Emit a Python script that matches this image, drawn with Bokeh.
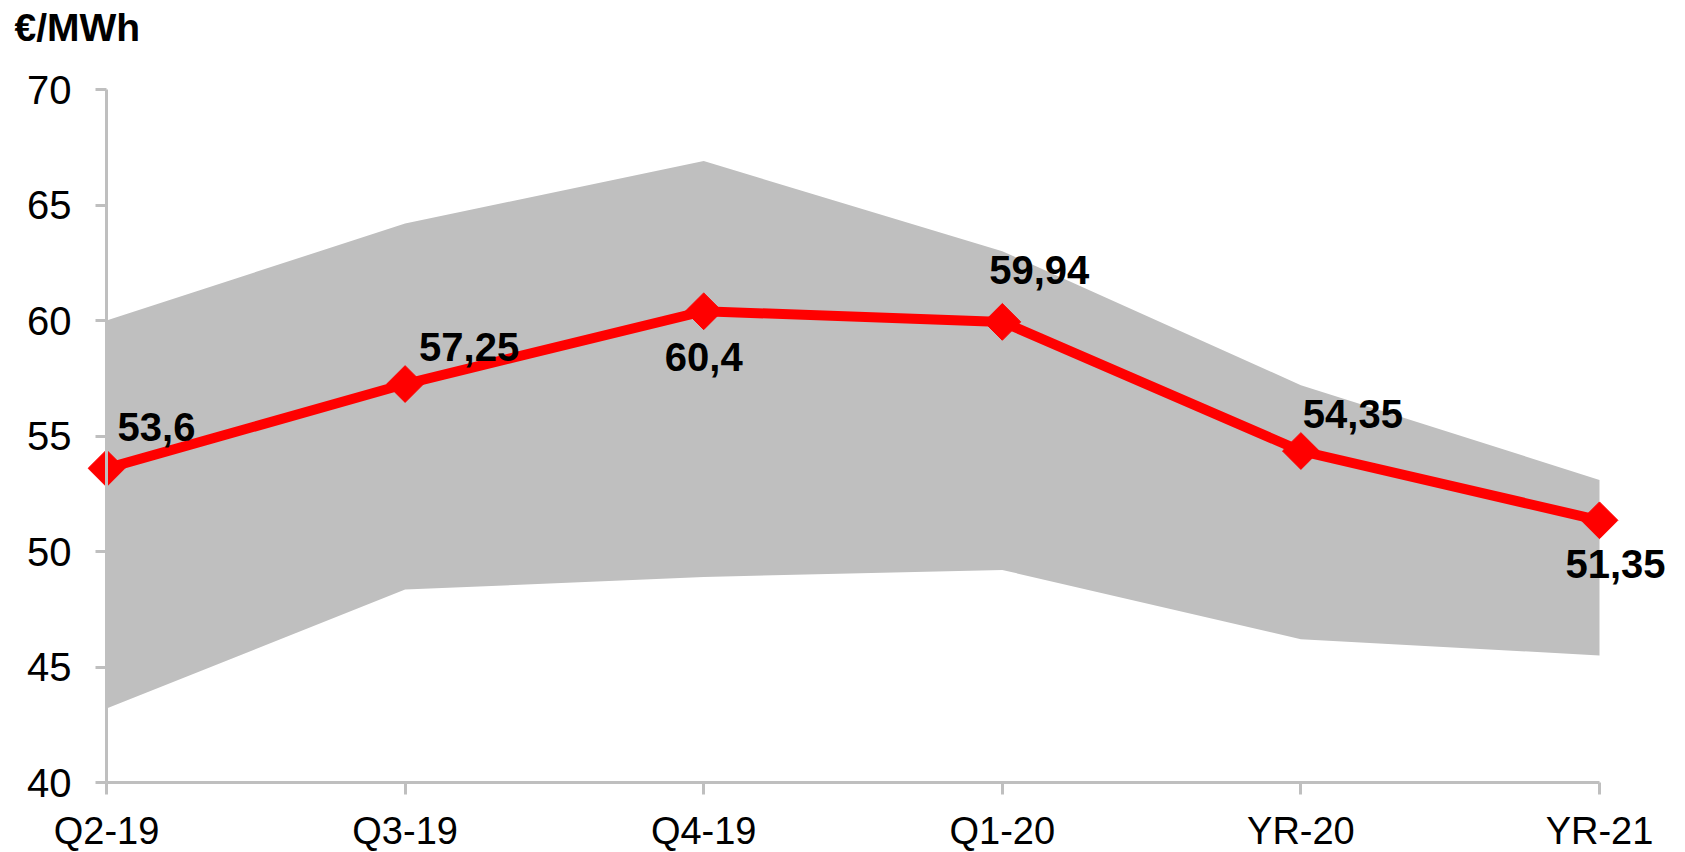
from bokeh.plotting import figure
from bokeh.models import Range1d, FixedTicker, Label, ColumnDataSource
from bokeh.core.properties import value
from bokeh.embed import file_html
from bokeh.resources import INLINE
import math

# ---- data ----
categories = ["Q2-19", "Q3-19", "Q4-19", "Q1-20", "YR-20", "YR-21"]
price = [53.6, 57.25, 60.4, 59.94, 54.35, 51.35]
range_high = [60.0, 64.2, 66.9, 63.0, 57.2, 53.1]
range_low = [43.2, 48.35, 48.9, 49.2, 46.2, 45.5]
y_ticks = [40, 45, 50, 55, 60, 65, 70]
unit_label = "€/MWh"

# ---- layout (page pixels) ----
W, H = 1685, 852
FONT = "Liberation Sans"
RED = "#ff0000"
GRAY = "#bfbfbf"

x_first_px, x_last_px = 106, 1599      # screen x of first / last category
y_top_px, y_bot_px = 89, 782           # screen y of 70 and 40
ppx = (x_last_px - x_first_px) / (len(categories) - 1)
ppy = (y_bot_px - y_top_px) / 30.0
x_start = -x_first_px / ppx
x_end = (len(categories) - 1) + (W - x_last_px) / ppx
y_end = 70 + y_top_px / ppy
y_start = 40 - (H - y_bot_px) / ppy

xs = list(range(len(categories)))

p = figure(width=W, height=H, output_backend="svg", toolbar_location=None,
           x_range=Range1d(x_start, x_end), y_range=Range1d(y_start, y_end),
           min_border_left=0, min_border_right=0,
           min_border_top=0, min_border_bottom=0)
p.outline_line_color = None
p.grid.visible = False
p.background_fill_color = "white"
p.border_fill_color = "white"

# shaded min/max range
p.varea(x=xs, y1=range_low, y2=range_high, fill_color=GRAY, fill_alpha=1.0)

# price line + markers
p.line(xs, price, line_color=RED, line_width=10, line_join="miter")
p.scatter(xs, price, marker="square", size=26, angle=math.pi / 4,
          fill_color=RED, line_color=RED)

# data labels
labels = [f"{v:g}".replace(".", ",") for v in price]
x_offsets = [50, 64, 0, 37, 52, 16]
y_offsets = [-41, -37, 46, -52, -37, 44]
src = ColumnDataSource(dict(x=xs, y=price, t=labels, xo=x_offsets, yo=y_offsets))
p.text(x="x", y="y", text="t", x_offset="xo", y_offset="yo", source=src,
       text_font=value(FONT), text_font_size="40px", text_font_style="bold",
       text_color="black", text_align="center", text_baseline="alphabetic")

# axes
xa = p.xaxis[0]
xa.ticker = FixedTicker(ticks=xs)
xa.major_label_overrides = {i: c for i, c in enumerate(categories)}
xa.bounds = (0, len(categories) - 1)
xa.fixed_location = 40
ya = p.yaxis[0]
ya.ticker = FixedTicker(ticks=y_ticks)
ya.bounds = (40, 70)
ya.fixed_location = 0
for ax in (xa, ya):
    ax.axis_line_color = GRAY
    ax.axis_line_width = 3
    ax.major_tick_line_color = GRAY
    ax.major_tick_line_width = 3
    ax.major_tick_in = 0
    ax.minor_tick_line_color = None
    ax.major_label_text_font = FONT
    ax.major_label_text_color = "black"
xa.major_label_text_font_size = "38px"
ya.major_label_text_font_size = "40px"
xa.major_tick_out = 12
xa.major_label_standoff = 15
ya.major_tick_out = 11
ya.major_label_standoff = 24

# unit label top-left
p.add_layout(Label(x=(14 - x_first_px) / ppx, y=70 + (y_top_px - 27) / ppy,
                   text=unit_label, text_font=FONT,
                   text_font_size="39px", text_font_style="bold",
                   text_color="black", text_baseline="alphabetic",
                   text_align="left"))

open("out.html", "w").write(file_html(p, INLINE))
